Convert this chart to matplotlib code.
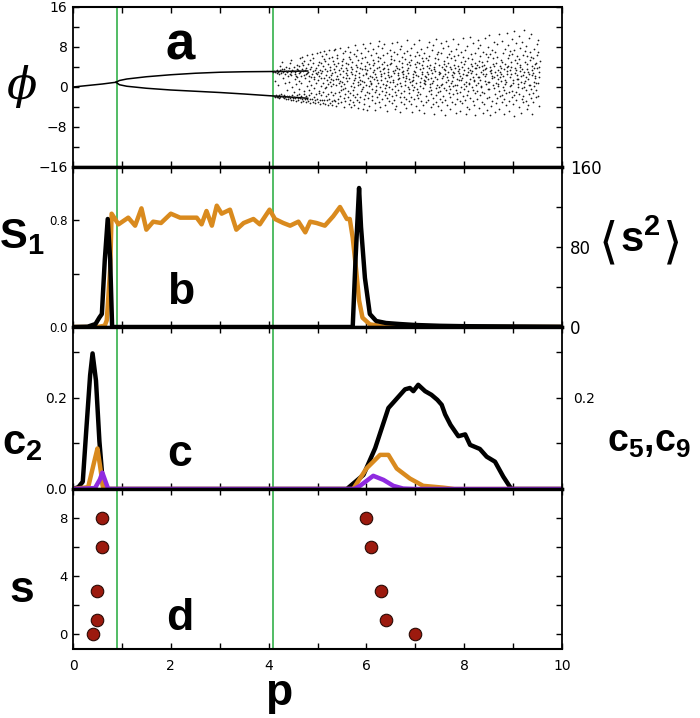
import matplotlib
matplotlib.use("Agg")
import matplotlib.pyplot as plt
from matplotlib.ticker import MultipleLocator, FixedLocator

plt.rcParams['font.family'] = ['DejaVu Sans']
plt.rcParams['mathtext.fontset'] = 'custom'
plt.rcParams['mathtext.rm'] = 'Liberation Sans'
plt.rcParams['mathtext.bf'] = 'Liberation Sans:bold'
plt.rcParams['mathtext.it'] = 'Liberation Sans:italic'

# ---- data ----
green_p = [0.9, 4.1]

# panel a: branches before the chaotic regime
stem_p = [0.0, 0.3, 0.6, 0.88]
stem_phi = [0.0, 0.3, 0.6, 0.95]
upper_p = [0.88, 0.95, 1.1, 1.5, 2.0, 2.5, 3.0, 3.5, 4.1, 4.5, 4.8]
upper_phi = [0.95, 1.3, 1.6, 2.05, 2.45, 2.75, 2.95, 3.05, 3.1, 3.15, 3.2]
lower_p = [0.88, 0.95, 1.1, 1.5, 2.0, 2.5, 3.0, 3.5, 4.1, 4.5, 4.8]
lower_phi = [0.95, 0.45, 0.15, -0.25, -0.6, -0.85, -1.1, -1.4, -1.8, -2.05, -2.25]

# scattered phi values, grouped by p column; dots sit a little right of their column
cloud_dx = [0.000, 0.031, 0.012, 0.043, 0.022, 0.006, 0.037, 0.017, 0.027, 0.046]
phi_cloud = {
    4.10: [3.1, 3.0, 3.3, -1.8, -1.9, -1.7, 1.2],
    4.15: [3.2, 2.9, 3.5, -1.9, -2.0, -1.6, 0.4],
    4.20: [3.0, 3.4, 2.7, -1.9, -2.1, -1.5, 4.2],
    4.25: [3.2, 3.6, 2.8, -2.0, -1.8, -1.4, 1.8, 5.0],
    4.30: [3.1, 2.6, 3.7, -2.0, -2.2, -1.6, 0.9],
    4.35: [3.3, 3.0, 4.1, -2.0, -1.7, -2.3, 2.2, -0.6],
    4.40: [3.2, 2.7, 3.8, -2.1, -1.8, -2.4, 4.8, 1.1],
    4.45: [3.0, 3.5, 2.4, -2.1, -1.5, -2.5, 0.1, 5.4],
    4.50: [3.3, 2.6, 4.0, -2.2, -1.9, -2.6, 1.6, -1.0],
    4.55: [3.1, 3.7, 2.3, -2.2, -1.6, -2.7, 4.5, 0.6, 2.0],
    4.60: [3.4, 2.8, 4.2, -2.2, -1.4, -2.6, 5.8, -0.3, 1.3],
    4.65: [3.0, 3.6, 2.2, -2.3, -1.7, -2.9, 4.9, 0.8, 6.1],
    4.70: [3.2, 2.5, 4.4, -2.3, -1.3, -2.8, 1.9, -0.8, 5.2],
    4.75: [3.5, 2.9, 3.9, -2.4, -1.8, -3.0, 0.2, 2.6, 6.4],
    4.80: [3.1, 2.3, 4.6, -2.3, -1.5, -2.7, 5.5, 1.2, -0.5],
    4.85: [3.6, 2.7, 4.1, -2.4, -1.2, -3.1, 6.7, 0.5, 2.1],
    4.90: [3.2, 2.1, 4.8, -2.5, -1.9, -2.9, 1.7, 5.9, -0.2],
    4.95: [3.4, 2.6, 3.9, -2.4, -1.4, -3.2, 6.9, 0.9, 2.8],
    5.00: [3.0, 2.2, 4.5, -2.5, -1.1, -3.0, 5.1, 1.4, -0.7, 7.0],
    5.05: [3.5, 2.8, 4.9, -2.6, -1.6, -3.3, 6.3, 0.3, 1.9],
    5.10: [3.3, 1.9, 4.3, -2.5, -1.0, -3.1, 7.2, 0.8, 5.6, -0.1],
    5.15: [3.6, 2.5, 5.2, -2.6, -1.8, -3.4, 1.5, 6.6, 0.0],
    5.20: [3.2, 2.0, 4.7, -2.4, -1.3, -3.5, 7.4, 0.6, 5.8, 1.1],
    5.25: [3.4, 1.7, 4.0, -2.7, -0.9, -3.2, 6.1, 2.4, 0.2],
    5.30: [2.9, 4.6, 1.4, -2.5, -1.5, -3.6, 7.5, 0.7, 5.3, 3.7],
    5.35: [3.1, 0.4, -2.8, 5.9, 1.7, -1.2, 4.2, 7.6, -3.7],
    5.40: [2.2, -0.9, 4.8, 0.9, -2.4, 6.4, 3.5, -3.1, 1.6],
    5.45: [1.3, 3.9, -1.7, 5.2, 0.2, 7.9, -2.9, 2.6, -0.5],
    5.50: [4.4, -0.3, 2.0, -2.2, 6.8, 1.0, -3.9, 3.2, 5.6],
    5.55: [0.6, 2.9, -1.4, 4.9, -2.7, 7.3, 1.9, -0.2, 3.8],
    5.60: [3.4, -1.9, 1.2, 6.0, -0.7, 2.5, -3.4, 8.1, 4.6],
    5.65: [1.8, 4.1, -2.5, 0.3, 5.7, -1.1, 3.0, 7.0, -4.0],
    5.70: [2.7, -0.6, 5.0, 1.4, -2.9, 3.6, 6.6, -1.6, 0.8],
    5.75: [0.1, 3.3, -2.0, 6.2, 1.9, -3.6, 4.5, 8.4, 2.4],
    5.80: [4.0, 1.1, -1.3, 2.8, 5.4, -2.6, 0.4, 7.5, -4.2],
    5.85: [2.1, -0.8, 3.9, 6.9, 0.7, -3.0, 4.8, 1.5, -1.9],
    5.90: [3.6, 0.0, 5.8, -2.3, 2.5, -0.4, 8.6, 1.3, -4.4],
    5.95: [1.0, 4.3, -1.5, 2.9, 6.1, -3.3, 0.5, 3.7, 7.8],
    6.00: [2.6, -2.1, 5.1, 0.2, 3.4, -0.9, 7.2, -4.5, 1.8],
    6.05: [4.7, 1.2, -1.2, 6.5, 2.2, -3.8, 0.6, 3.9, 8.9],
    6.10: [0.9, 3.1, -2.6, 5.5, -0.3, 2.0, 7.6, -1.7, 4.4],
    6.15: [3.5, -1.0, 1.6, 6.8, -3.1, 4.9, 0.3, 2.7, -4.6],
    6.20: [2.0, 5.2, -2.0, 0.8, 3.8, -0.5, 8.2, 1.4, 6.0],
    6.25: [4.1, 0.0, -2.9, 2.6, 5.9, -1.4, 3.2, 9.3, -4.0],
    6.30: [1.5, 3.6, -0.8, 6.4, -2.4, 2.3, 0.7, 4.7, 7.9],
    6.35: [2.9, -1.6, 5.0, 0.4, -3.5, 3.9, 1.9, 8.6, -0.2],
    6.40: [0.5, 4.4, -2.2, 2.4, 6.9, -0.9, 3.1, -4.8, 1.2],
    6.45: [3.7, 1.0, -1.3, 5.6, 2.0, -2.8, 7.4, 0.1, 4.6],
    6.50: [2.3, -0.4, 4.9, 1.5, -3.2, 6.3, 3.3, -1.8, 8.8],
    6.55: [1.1, 3.4, -2.5, 0.3, 5.4, 2.8, -0.9, 7.1, -4.3],
    6.60: [4.2, 0.6, -1.6, 2.9, 6.6, -3.7, 1.7, 3.8, 9.1],
    6.65: [2.5, -2.0, 5.3, 0.9, 3.6, -0.5, 7.7, 1.9, -4.9],
    6.70: [0.2, 4.0, -2.9, 2.1, 6.0, -1.2, 3.0, 8.3, 4.9],
    6.75: [3.2, 1.3, -0.7, 5.7, -3.4, 2.6, 0.4, 6.8, -1.9],
    6.80: [1.8, 4.6, -2.3, 0.0, 3.5, -4.1, 7.3, 2.2, 9.4],
    6.85: [2.9, -1.1, 5.1, 1.0, -2.8, 3.9, 6.4, -0.3, 1.6],
    6.90: [4.4, 0.5, -1.9, 2.7, 7.9, -3.3, 1.3, 5.5, -5.0],
    6.95: [1.4, 3.3, -0.6, 6.2, -2.4, 2.0, 4.7, 8.7, 0.1],
    7.00: [3.0, -1.5, 0.8, 5.0, -3.8, 2.4, 7.0, 4.1, -0.4],
    7.05: [2.2, 4.9, -2.1, 1.1, 6.5, -0.9, 3.7, 9.5, -4.5],
    7.10: [0.3, 3.1, -2.7, 5.8, 1.9, -1.4, 4.4, 7.6, 2.6],
    7.15: [3.9, 0.9, -0.2, 2.3, 6.9, -3.5, 1.5, 5.2, -5.2],
    7.20: [1.2, 4.2, -1.8, 3.0, -3.0, 0.6, 8.1, 2.0, 5.9],
    7.25: [2.7, -0.8, 5.4, 0.0, 3.8, -2.5, 6.2, 1.6, 9.0],
    7.30: [4.5, 1.8, -1.3, 2.9, -4.0, 0.7, 7.4, 3.4, -0.5],
    7.35: [0.9, 3.6, -2.2, 5.9, 1.3, -3.3, 4.1, 8.4, -5.4],
    7.40: [3.3, -0.2, 2.1, 6.6, -1.6, 4.8, 0.4, -2.9, 9.6],
    7.45: [1.7, 4.4, -1.0, 2.6, 5.6, -3.8, 0.1, 7.1, 3.0],
    7.50: [2.9, 0.5, -2.4, 4.0, 6.8, -0.7, 1.8, -4.6, 8.8],
    7.55: [0.6, 3.7, -1.7, 5.2, 2.3, -3.0, 4.7, 7.9, -0.1],
    7.60: [3.5, 1.1, -2.6, 6.1, -0.6, 2.7, 9.2, -5.5, 4.3],
    7.65: [2.0, -1.2, 4.9, 0.3, 3.1, -3.6, 6.7, 1.5, 8.2],
    7.70: [4.1, 0.8, -2.0, 2.4, 5.8, -0.4, 3.6, -4.3, 7.3],
    7.75: [1.3, 3.0, -1.4, 6.3, 0.2, -2.9, 4.5, 9.7, 2.1],
    7.80: [2.8, -0.6, 5.5, 1.7, -3.4, 3.9, 7.7, 0.5, -5.1],
    7.85: [0.4, 4.3, -2.3, 2.9, 6.5, -1.1, 1.4, 8.6, 3.3],
    7.90: [3.6, 1.5, -0.9, 5.1, -2.7, 2.2, 7.0, -4.8, 0.0],
    7.95: [1.9, -1.8, 4.0, 0.7, 6.0, -3.2, 3.4, 9.9, 2.6],
    8.00: [4.6, 0.2, -2.5, 2.5, 7.5, -0.3, 1.1, 5.3, -5.4],
    8.05: [2.4, 3.9, -1.5, 0.9, 5.9, -3.9, 3.0, 8.3, -0.8],
    8.10: [0.7, 2.8, -2.1, 4.7, 1.6, -4.4, 6.6, 10.1, 3.5],
    8.15: [3.2, -0.5, 5.6, 1.2, -2.8, 4.2, 8.9, 0.0, 2.0],
    8.20: [1.4, 4.8, -1.2, 2.7, 6.9, -3.5, 0.5, 3.8, -5.6],
    8.25: [3.9, 0.9, -2.4, 5.3, 2.0, -0.7, 7.8, 4.5, 9.5],
    8.30: [2.1, -1.6, 4.1, 0.3, 6.2, -4.1, 3.1, 1.5, 8.4],
    8.35: [0.0, 3.4, -2.9, 2.6, 5.0, -0.9, 7.1, 4.3, -5.2],
    8.40: [4.4, 1.3, -1.1, 6.7, 2.3, -3.3, 0.6, 9.8, 3.6],
    8.45: [2.6, -0.3, 5.2, 1.0, -2.2, 3.9, 8.0, -4.6, 6.1],
    8.50: [1.1, 4.0, -1.9, 2.9, 6.6, -0.4, 3.3, 10.4, -5.5],
    8.55: [3.5, 0.4, -2.7, 5.8, 1.8, -3.8, 4.6, 7.4, 2.2],
    8.60: [2.0, -1.3, 4.3, 0.8, 7.0, -0.1, 3.0, 9.1, -4.9],
    8.65: [4.8, 1.6, -2.2, 3.4, 6.0, -3.1, 0.3, 8.6, 2.5],
    8.70: [0.6, 3.0, -0.8, 5.5, 2.1, -4.4, 4.2, 10.6, -1.8],
    8.75: [3.8, -1.5, 1.3, 6.9, -2.9, 2.7, 0.1, 5.0, 9.3],
    8.80: [2.3, 4.6, -2.4, 0.6, 3.7, -0.6, 7.7, -5.3, 1.5],
    8.85: [1.0, 3.3, -1.2, 5.9, 2.6, -3.6, 8.4, 4.1, 10.9],
    8.90: [4.2, 0.2, -2.8, 2.0, 6.4, -1.0, 3.5, -4.7, 7.2],
    8.95: [2.7, -0.7, 5.1, 1.4, -2.0, 4.0, 9.6, 0.5, 6.7],
    9.00: [0.8, 3.9, -1.6, 2.9, 7.5, -3.4, 5.4, 11.2, -5.7],
    9.05: [3.4, 1.7, -2.5, 0.1, 4.8, -0.9, 6.3, 8.9, 2.4],
    9.10: [1.6, 4.5, -1.3, 3.2, -3.9, 0.7, 7.8, 10.3, 5.7],
    9.15: [4.0, -0.2, 2.3, 6.5, -2.3, 1.1, 3.7, -5.1, 9.0],
    9.20: [2.4, 0.9, -1.8, 5.0, 3.1, -3.0, 7.3, 11.4, 0.0],
    9.25: [1.2, 3.6, -0.6, 6.2, -2.7, 2.0, 4.6, 8.2, -4.4],
    9.30: [3.1, -1.4, 1.6, 5.4, 0.4, -3.6, 7.0, 9.9, 2.7],
    9.35: [0.5, 4.2, -2.2, 2.5, 6.1, -0.3, 3.4, 10.6, -5.3],
    9.40: [2.8, 1.0, -1.1, 4.7, 7.6, -2.9, 0.2, 5.8, 3.9],
    9.45: [1.9, 3.9, -0.5, 6.4, -2.0, 2.3, 8.7, 0.8, 4.8],
    9.50: [0.9, 3.1, -1.7, 5.2, 2.0, 7.1, -3.8, 9.4, 4.1],
}

# panel b: order parameter S1 (left) and <s^2> (right)
s1_p = [0.0, 0.5, 0.65, 0.69, 0.76, 0.79, 0.93, 1.13, 1.27, 1.40, 1.50, 1.64, 1.80,
        2.00, 2.19, 2.36, 2.53, 2.63, 2.73, 2.84, 2.94, 3.04, 3.21, 3.34, 3.49,
        3.69, 3.82, 4.02, 4.13, 4.30, 4.44, 4.61, 4.75, 4.85, 4.98, 5.15, 5.32,
        5.46, 5.60, 5.66, 5.72, 5.79, 5.85, 5.92, 6.07, 6.34, 6.5, 10.0]
s1_val = [0.0, 0.0, 0.01, 0.05, 0.43, 0.85, 0.77, 0.82, 0.76, 0.89, 0.73, 0.79, 0.78,
          0.85, 0.82, 0.82, 0.82, 0.77, 0.87, 0.76, 0.91, 0.85, 0.88, 0.73, 0.78,
          0.81, 0.77, 0.88, 0.81, 0.78, 0.76, 0.79, 0.71, 0.79, 0.78, 0.76, 0.83,
          0.90, 0.81, 0.81, 0.67, 0.43, 0.20, 0.07, 0.02, 0.005, 0.0, 0.0]
s2_p = [0.0, 0.3, 0.46, 0.54, 0.59, 0.65, 0.71, 0.76, 0.80, 5.72, 5.78, 5.85,
        5.89, 5.97, 6.07, 6.20, 6.40, 6.67, 7.0, 7.5, 8.0, 10.0]
s2_val = [0.0, 0.3, 3.0, 9.5, 13.0, 67.0, 108.0, 67.0, 0.0, 0.0, 70.0, 139.0,
          100.0, 49.0, 13.0, 6.0, 4.0, 3.0, 2.0, 1.2, 0.8, 0.3]

# panel c: cluster fractions
c_black_p = [0.0, 0.11, 0.2, 0.27, 0.35, 0.40, 0.47, 0.54, 0.62, 5.6, 5.94, 6.18,
             6.45, 6.55, 6.79, 6.89, 6.96, 7.06, 7.2, 7.33, 7.45, 7.54, 7.61, 7.72,
             7.88, 8.02, 8.12, 8.32, 8.46, 8.63, 8.8, 8.94, 8.98, 10.0]
c_black = [0.0, 0.004, 0.016, 0.127, 0.25, 0.298, 0.238, 0.105, 0.0, 0.0, 0.031,
           0.09, 0.178, 0.19, 0.219, 0.222, 0.215, 0.229, 0.215, 0.207, 0.196,
           0.185, 0.164, 0.141, 0.116, 0.12, 0.097, 0.088, 0.071, 0.06, 0.027,
           0.004, 0.0, 0.0]
c_orange_p = [0.0, 0.31, 0.45, 0.50, 0.55, 0.62, 5.73, 6.0, 6.28, 6.45, 6.62, 6.89,
              7.16, 7.57, 7.8, 10.0]
c_orange = [0.0, 0.004, 0.067, 0.089, 0.053, 0.0, 0.0, 0.045, 0.075, 0.075, 0.045,
            0.023, 0.007, 0.003, 0.0, 0.0]
c_purple_p = [0.0, 0.45, 0.55, 0.60, 0.65, 0.72, 5.75, 5.87, 6.14, 6.35, 6.55, 6.75,
              7.0, 10.0]
c_purple = [0.0, 0.002, 0.021, 0.036, 0.021, 0.0, 0.0, 0.007, 0.029, 0.02, 0.007,
            0.001, 0.0, 0.0]

# panel d: cluster sizes
s_p = [0.4, 0.5, 0.5, 0.6, 0.6, 6.0, 6.1, 6.3, 6.4, 7.0]
s_val = [0, 1, 3, 6, 8, 8, 6, 3, 1, 0]

# ---- figure ----
W, H = 700, 718
fig = plt.figure(figsize=(W / 100, H / 100), dpi=100)


def box(top, bottom):
    return [73 / W, 1 - bottom / H, (562 - 73) / W, (bottom - top) / H]


ax_a = fig.add_axes(box(7, 167))
ax_b = fig.add_axes(box(167, 327))
ax_c = fig.add_axes(box(327, 489))
ax_d = fig.add_axes(box(489, 649))

orange = '#d98a1e'
purple = '#8f2be0'
green = '#34b04a'

for ax in [ax_a, ax_b, ax_c, ax_d]:
    ax.set_xlim(0, 10)
    ax.xaxis.set_major_locator(MultipleLocator(2))
    ax.xaxis.set_minor_locator(MultipleLocator(1))
    ax.tick_params(axis='x', which='both', direction='in', length=4, width=1,
                   top=True, bottom=True, labelbottom=False)
    ax.tick_params(axis='y', which='both', direction='in', length=4, width=1,
                   left=True, right=True, pad=4)
    for g in green_p:
        ax.axvline(g, color=green, lw=1.2, zorder=0.5)
    for s in ['left', 'right']:
        ax.spines[s].set_linewidth(1.3)
    ax.spines['top'].set_linewidth(2.4)
    ax.spines['bottom'].set_linewidth(2.4)
ax_a.spines['top'].set_linewidth(1.5)
ax_d.spines['bottom'].set_linewidth(1.5)

# a
cloud_x, cloud_y = [], []
for p, ys in phi_cloud.items():
    for i, y in enumerate(ys):
        cloud_x.append(p + cloud_dx[i])
        cloud_y.append(y)
ax_a.plot(stem_p, stem_phi, color='black', lw=1.1)
ax_a.plot(upper_p, upper_phi, color='black', lw=1.1)
ax_a.plot(lower_p, lower_phi, color='black', lw=1.1)
ax_a.plot(cloud_x, cloud_y, 'o', color='#1a1a1a', ms=1.25, mew=0)
ax_a.set_ylim(-16, 16)
ax_a.yaxis.set_major_locator(FixedLocator([-16, -8, 0, 8, 16]))
ax_a.yaxis.set_minor_locator(FixedLocator([-12, -4, 4, 12]))
ax_a.set_yticklabels(['\u221216', '\u22128', '0', '8', '16'])
ax_a.tick_params(axis='y', labelsize=10)

# b
ax_b.plot(s1_p, s1_val, color=orange, lw=3.2, solid_joinstyle='round')
ax_b.set_ylim(0, 1.2)
ax_b.yaxis.set_major_locator(FixedLocator([0, 0.8]))
ax_b.yaxis.set_minor_locator(FixedLocator([0.4]))
ax_b.set_yticklabels(['0.0', '0.8'])
ax_b.tick_params(axis='y', labelsize=8.5)
ax_b2 = ax_b.twinx()
ax_b2.plot(s2_p, s2_val, color='black', lw=3.2, solid_joinstyle='round')
ax_b2.set_ylim(0, 160)
ax_b2.yaxis.set_major_locator(FixedLocator([0, 80, 160]))
ax_b2.yaxis.set_minor_locator(FixedLocator([40, 120]))
ax_b2.tick_params(axis='y', which='both', direction='in', length=4, width=1,
                  labelsize=12, pad=6)
for s in ax_b2.spines.values():
    s.set_visible(False)

# c
ax_c.plot(c_black_p, c_black, color='black', lw=3.2, solid_joinstyle='round')
ax_c.plot(c_orange_p, c_orange, color=orange, lw=3.2, solid_joinstyle='round')
ax_c.plot(c_purple_p, c_purple, color=purple, lw=3.2, solid_joinstyle='round')
ax_c.set_ylim(0, 0.356)
ax_c.yaxis.set_major_locator(FixedLocator([0, 0.2]))
ax_c.yaxis.set_minor_locator(FixedLocator([0.1, 0.3]))
ax_c.set_yticklabels(['0.0', '0.2'])
ax_c.tick_params(axis='y', labelsize=10)
ax_c2 = ax_c.twinx()
ax_c2.set_ylim(0, 0.356)
ax_c2.yaxis.set_major_locator(FixedLocator([0.2]))
ax_c2.yaxis.set_minor_locator(FixedLocator([0.1, 0.3]))
ax_c2.set_yticklabels(['0.2'])
ax_c2.tick_params(axis='y', which='both', direction='in', length=4, width=1,
                  labelsize=10, pad=8)
for s in ax_c2.spines.values():
    s.set_visible(False)

# d
ax_d.plot(s_p, s_val, 'o', color='#9c1a0e', mec='#2a0a05', mew=0.8, ms=9)
ax_d.set_ylim(-1, 10)
ax_d.yaxis.set_major_locator(FixedLocator([0, 4, 8]))
ax_d.yaxis.set_minor_locator(FixedLocator([2, 6]))
ax_d.tick_params(axis='y', labelsize=9.5)
ax_d.tick_params(axis='x', labelbottom=True, labelsize=10, pad=7)
ax_d.set_yticklabels(['0', '4', '8'])

# labels
bold = dict(fontweight='bold', family='Liberation Sans', ha='center', va='center')
fig.text(22 / W, 1 - 86 / H, '\u03d5', fontsize=32, style='italic',
         family='DejaVu Serif', ha='center', va='center')
fig.text(22 / W, 1 - 236 / H, r'$\mathbf{S}_{\mathbf{1}}$', fontsize=30,
         ha='center', va='center')
fig.text(608 / W, 1 - 243 / H, '\u27e8', fontsize=36, family='DejaVu Sans',
         ha='center', va='center')
fig.text(640 / W, 1 - 240 / H, r'$\mathbf{s}^{\mathbf{2}}$', fontsize=30,
         ha='center', va='center')
fig.text(673 / W, 1 - 243 / H, '\u27e9', fontsize=36, family='DejaVu Sans',
         ha='center', va='center')
fig.text(22 / W, 1 - 442 / H, r'$\mathbf{c}_{\mathbf{2}}$', fontsize=30,
         ha='center', va='center')
fig.text(607 / W, 1 - 442 / H,
         r'$\mathbf{c}_{\mathbf{5}}{\mathbf{,}}\mathbf{c}_{\mathbf{9}}$',
         fontsize=27, ha='left', va='center')
fig.text(22 / W, 1 - 590 / H, 's', fontsize=32, **bold)
fig.text(279 / W, 1 - 693 / H, 'p', fontsize=32, **bold)

fig.text(180 / W, 1 - 46 / H, 'a', fontsize=38, **bold)
fig.text(181 / W, 1 - 292 / H, 'b', fontsize=32, **bold)
fig.text(180 / W, 1 - 454 / H, 'c', fontsize=32, **bold)
fig.text(180 / W, 1 - 619 / H, 'd', fontsize=32, **bold)

fig.savefig('out.png', dpi=100)
